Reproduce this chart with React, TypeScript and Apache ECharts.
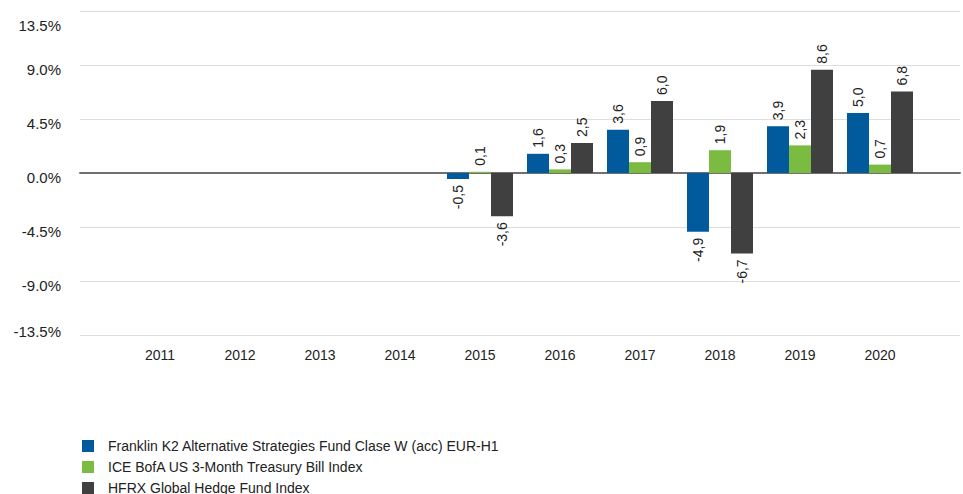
import React, { useEffect, useRef } from "react";
import * as echarts from "echarts";

const years = ["2011", "2012", "2013", "2014", "2015", "2016", "2017", "2018", "2019", "2020"];
const franklin = [null, null, null, null, -0.5, 1.6, 3.6, -4.9, 3.9, 5.0];
const iceBofa = [null, null, null, null, 0.1, 0.3, 0.9, 1.9, 2.3, 0.7];
const hfrx = [null, null, null, null, -3.6, 2.5, 6.0, -6.7, 8.6, 6.8];
const seriesNames = [
  "Franklin K2 Alternative Strategies Fund Clase W (acc) EUR-H1",
  "ICE BofA US 3-Month Treasury Bill Index",
  "HFRX Global Hedge Fund Index",
];
const colors = ["#005a9c", "#7cbb42", "#404040"];
const yTicks = { min: -13.5, max: 13.5, interval: 4.5 };

const FONT = "'Liberation Sans', Arial, sans-serif";

function pad(arr: (number | null)[]) {
  return [null, ...arr, null];
}

function makeData(arr: (number | null)[]) {
  return pad(arr).map((v) => {
    if (v === null) return null;
    const neg = v < 0;
    return {
      value: v,
      label: neg
        ? { position: "bottom", align: "right" }
        : { position: "top", align: "left" },
    };
  });
}

export default function App() {
  const ref = useRef<HTMLDivElement>(null);
  useEffect(() => {
    if (!ref.current) return;
    const chart = echarts.init(ref.current, null, { renderer: "svg" });
    const all = [franklin, iceBofa, hfrx];
    const yRich = {
      t: { fontSize: 15, color: "#222", fontFamily: FONT, padding: [28, 0, 0, 0] },
      m: { fontSize: 15, color: "#222", fontFamily: FONT, padding: [8, 0, 0, 0] },
      b: { fontSize: 15, color: "#222", fontFamily: FONT, padding: [0, 0, 8, 0] },
    };
    chart.setOption({
      animation: false,
      textStyle: { fontFamily: FONT },
      grid: { left: 80, width: 888, top: 11, height: 324, containLabel: false },
      legend: {
        orient: "vertical",
        left: 82,
        top: 439,
        height: 80,
        itemWidth: 12,
        itemHeight: 12,
        itemGap: 7,
        icon: "rect",
        padding: 0,
        textStyle: { fontSize: 14, color: "#222", fontFamily: FONT, padding: [0, 0, 0, 9] },
        data: seriesNames,
      },
      xAxis: {
        type: "category",
        boundaryGap: false,
        data: ["", ...years, ""],
        axisLine: { show: true, onZero: true, lineStyle: { color: "#707070", width: 2 } },
        axisTick: { show: false },
        splitLine: { show: false },
        axisLabel: {
          position: "bottom",
          fontSize: 14,
          color: "#222",
          fontFamily: FONT,
          margin: 13,
          interval: 0,
        },
      },
      yAxis: {
        type: "value",
        min: yTicks.min,
        max: yTicks.max,
        interval: yTicks.interval,
        axisLine: { show: false },
        axisTick: { show: false },
        splitLine: { lineStyle: { color: "#dedede", width: 1 } },
        axisLabel: {
          fontSize: 15,
          color: "#222",
          fontFamily: FONT,
          margin: 19,
          rich: yRich,
          formatter: (v: number) => {
            const s = v.toFixed(1) + "%";
            const k = v >= yTicks.max ? "t" : v <= yTicks.min ? "b" : "m";
            return "{" + k + "|" + s + "}";
          },
        },
      },
      series: all.map((arr, i) => ({
        name: seriesNames[i],
        type: "bar",
        barWidth: 22,
        barGap: "0%",
        itemStyle: { color: colors[i] },
        label: {
          show: true,
          rotate: 90,
          distance: 6,
          verticalAlign: "middle",
          fontSize: 14,
          color: "#222",
          fontFamily: FONT,
          formatter: (p: any) => p.value.toFixed(1).replace(".", ","),
        },
        data: makeData(arr),
      })),
    });
    return () => chart.dispose();
  }, []);
  return <div ref={ref} style={{ width: 963, height: 494, position: "absolute", left: 0, top: 0 }} />;
}
